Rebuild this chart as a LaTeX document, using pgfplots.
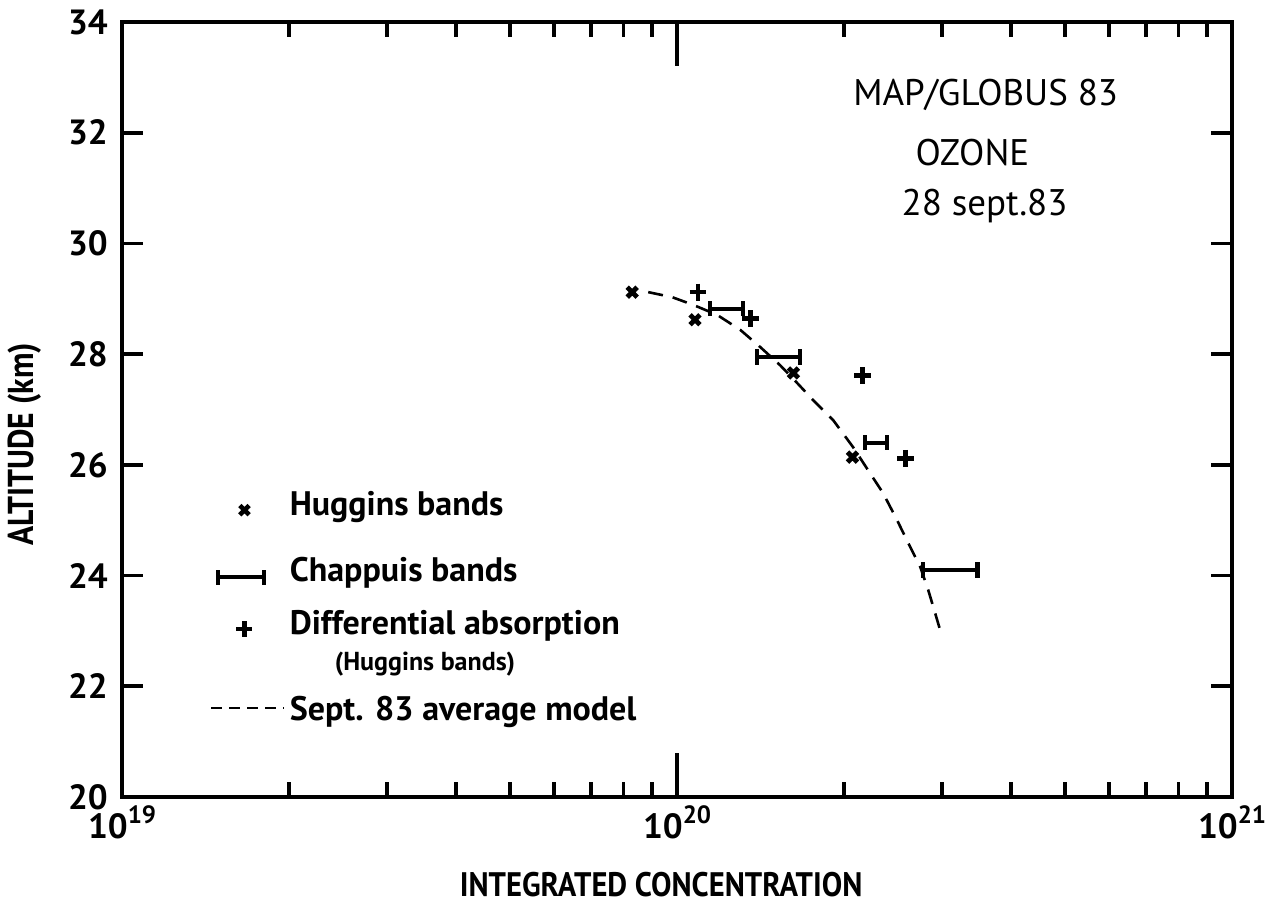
\documentclass[border=0pt]{standalone}
\usepackage{fontspec}
\setmainfont{PT Sans}
\usepackage{graphicx}
\usepackage{pgfplots}
\pgfplotsset{compat=1.18}
\newcommand{\tickfont}{\fontsize{17.5}{20}\selectfont\bfseries}
\newcommand{\labfont}{\fontsize{17}{20}\selectfont\bfseries}
\newcommand{\ylabfont}{\fontsize{18}{20}\selectfont\bfseries}
\newcommand{\legfont}{\fontsize{17}{20}\selectfont\bfseries}
\newcommand{\titfont}{\fontsize{18.5}{22}\selectfont}
\newcommand{\supnum}[1]{10\raisebox{7.5pt}{\fontsize{12.5}{12.5}\selectfont\bfseries #1}}
\begin{document}
\begin{tikzpicture}
\begin{axis}[
  xmode=log, xmin=1e19, xmax=1e21, ymin=20, ymax=34,
  scale only axis, width=555pt, height=387.5pt,
  axis line style={line width=2.2pt, line join=miter},
  tick style={line width=1.8pt, black},
  tick align=inside,
  xtick={1e19,1e21}, xticklabels={\supnum{19},\supnum{21}},
  extra x ticks={1e20}, extra x tick labels={\supnum{20}},
  extra x tick style={major tick length=22pt},
  minor xtick={2e19,3e19,4e19,5e19,6e19,7e19,8e19,9e19,2e20,3e20,4e20,5e20,6e20,7e20,8e20,9e20},
  ytick={20,22,24,26,28,30,32,34},
  yticklabels={20,22,24,26,28,30,32,34},
  major tick length=10.5pt, minor tick length=7.5pt,
  ticklabel style={font=\tickfont},
  xticklabel style={inner sep=0pt, yshift=-4pt},
  yticklabel style={inner sep=0pt, xshift=-7pt},
  xlabel={\scalebox{0.9}[1]{INTEGRATED CONCENTRATION}},
  ylabel={\scalebox{0.88}[1]{ALTITUDE (km)}},
  xlabel style={font=\labfont, at={(axis description cs:0.4856,-0.113)}, anchor=center},
  ylabel style={font=\ylabfont, at={(axis description cs:-0.0874,0.455)}, anchor=center},
  legend style={at={(rel axis cs:0.0793,0.405)}, anchor=north west,
    draw=none, fill=none, inner sep=0pt, outer sep=0pt, row sep=0pt,
    font=\legfont, cells={anchor=base west, inner xsep=2pt, inner ysep=0pt}},
]
% legend
\addlegendimage{legend image code/.code={\path (0pt,0pt) (36.5pt,0pt);
  \path[draw, line width=2.3pt] plot[only marks, mark=x, mark size=3.3pt] coordinates {(16.5pt,2.5pt)};}}
\addlegendentry[text height=14pt, text depth=12pt]{Huggins bands}
\addlegendimage{legend image code/.code={\path (0pt,0pt) (36.5pt,0pt);
  \draw[line width=2pt] (3.5pt,2pt) -- (26.5pt,2pt);
  \draw[line width=2pt] (3.5pt,-1.8pt) -- (3.5pt,5.8pt);
  \draw[line width=2pt] (26.5pt,-1.8pt) -- (26.5pt,5.8pt);}}
\addlegendentry[text height=17pt, text depth=10pt]{Chappuis bands}
\addlegendimage{legend image code/.code={\path (0pt,0pt) (36.5pt,0pt);
  \path[draw, line width=2.2pt] plot[only marks, mark=+, mark size=4pt] coordinates {(16.5pt,2.5pt)};}}
\addlegendentry[text height=12.5pt, text depth=26pt]{\begin{tabular}[t]{@{}l@{}}Differential absorption\\[-2pt]\hspace*{22.5pt}{\fontsize{13}{15}\selectfont\bfseries (Huggins bands)}\end{tabular}}
\addlegendimage{legend image code/.code={\path (0pt,0pt) (36.5pt,0pt);
  \draw[line width=1.3pt, dash pattern=on 5.5pt off 3.5pt] (0pt,6pt) -- (36.5pt,6pt);}}
\addlegendentry[text height=13pt, text depth=5pt]{Sept. 83 average model}
% model curve
\addplot[forget plot, line width=1.3pt, dash pattern=on 7.5pt off 5pt] coordinates {
(8.87e19,29.12) (9.79e19,29.03) (1.069e20,28.89) (1.180e20,28.71) (1.299e20,28.44)
(1.411e20,28.13) (1.533e20,27.80) (1.645e20,27.48) (1.758e20,27.17) (1.910e20,26.81)
(2.075e20,26.32) (2.226e20,25.85) (2.350e20,25.49) (2.491e20,25.00) (2.608e20,24.59)
(2.741e20,24.16) (2.834e20,23.74) (2.917e20,23.32) (3.003e20,22.89)};
% Huggins bands
\addplot[forget plot, only marks, mark=x, mark size=3.5pt, line width=2.4pt] coordinates {
(8.30e19,29.12) (1.077e20,28.62) (1.62e20,27.66) (2.07e20,26.14)};
% Differential absorption
\addplot[forget plot, only marks, mark=+, mark size=4.2pt, line width=2.3pt] coordinates {
(1.09e20,29.12) (1.355e20,28.64) (2.16e20,27.61) (2.58e20,26.12)};
% Chappuis bands
\addplot[forget plot, line width=2.2pt, mark=|, mark size=3.8pt] coordinates {(1.146e20,28.82) (1.315e20,28.82)};
\addplot[forget plot, line width=2.2pt, mark=|, mark size=3.8pt] coordinates {(1.393e20,27.95) (1.667e20,27.95)};
\addplot[forget plot, line width=2.2pt, mark=|, mark size=3.8pt] coordinates {(2.18e20,26.40) (2.39e20,26.40)};
\addplot[forget plot, line width=2.2pt, mark=|, mark size=3.8pt] coordinates {(2.77e20,24.10) (3.48e20,24.10)};
% title
\node[font=\titfont, anchor=center] at (axis description cs:0.778,0.906) {MAP/GLOBUS 83};
\node[font=\titfont, anchor=center] at (axis description cs:0.766,0.832) {OZONE};
\node[font=\titfont, anchor=center] at (axis description cs:0.777,0.762) {28 sept.83};
\end{axis}
\pgfresetboundingbox
\useasboundingbox (-61pt,-55pt) rectangle (571.5pt,398.5pt);
\end{tikzpicture}
\end{document}
